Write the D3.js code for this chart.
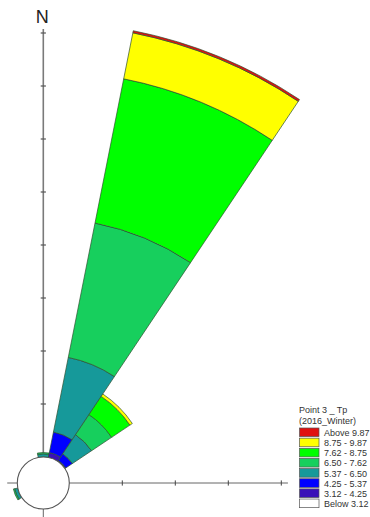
<!DOCTYPE html>
<html>
<head>
<meta charset="utf-8">
<script src="https://cdn.jsdelivr.net/npm/d3@7"></script>
<style>
  html, body { margin: 0; padding: 0; background: #fff; }
  svg { display: block; }
</style>
</head>
<body>
<div id="chart"></div>
<script>
// ---- data ----
const directions = ["N","NNE","NE","ENE","E","ESE","SE","SSE","S","SSW","SW","WSW","W","WNW","NW","NNW"];
const binLabels = ["Below 3.12","3.12 - 4.25","4.25 - 5.37","5.37 - 6.50","6.50 - 7.62","7.62 - 8.75","8.75 - 9.87","Above 9.87"];
const binColors = ["#ffffff","#3a10b8","#0000ff","#16999a","#17cf5d","#00ff00","#ffff00","#e01010"];
// frequency (%) per direction, for bins 3.12-4.25 ... Above 9.87 (the "Below" bin is the calm circle)
const freqN   = [0.00, 0.00, 0.12, 0.05, 0.00, 0.00, 0.00];
const freqNNE = [0.19, 0.79, 2.87, 5.17, 5.55, 1.77, 0.08];
const freqNE  = [0.04, 0.30, 0.87, 0.91, 0.83, 0.11, 0.00];
const freqWSW = [0.00, 0.00, 0.12, 0.05, 0.00, 0.00, 0.00];
const radialTicksN = [2, 4, 6, 8, 10, 12, 14, 16];
const radialTicksE = [2, 4, 6, 8];
const legendTitle = ["Point 3 _ Tp", "(2016_Winter)"];
const northLabel = "N";

// ---- layout ----
const W = 370, H = 517;
const cx = 43.3, cy = 483;
const R0 = 26;
const svg = d3.select("#chart").append("svg").attr("width", W).attr("height", H);

const r = d3.scaleLinear().domain([0, 1]).range([R0, R0 + 26.5]);
const angle = d3.scaleLinear().domain([0, directions.length]).range([0, 2 * Math.PI]);
const half = Math.PI / directions.length;

const g = svg.append("g").attr("transform", `translate(${cx},${cy})`);

// axes
const axisColor = "#666";
g.append("line").attr("x1", 0).attr("x2", 0).attr("y1", 0).attr("y2", -r(16.15))
  .attr("stroke", "#7a7a7a").attr("stroke-width", 1.6);
g.append("line").attr("x1", 0).attr("x2", 0).attr("y1", 0).attr("y2", r(0.55))
  .attr("stroke", axisColor).attr("stroke-width", 1);
g.append("line").attr("x1", 0).attr("x2", r(8.25)).attr("y1", 0).attr("y2", 0)
  .attr("stroke", axisColor).attr("stroke-width", 1);
g.append("line").attr("x1", 0).attr("x2", -r(0.38)).attr("y1", 0).attr("y2", 0)
  .attr("stroke", axisColor).attr("stroke-width", 1);

g.selectAll("line.tn").data(radialTicksN).join("line").attr("class", "tn")
  .attr("x1", -2.6).attr("x2", 2.6)
  .attr("y1", d => -r(d)).attr("y2", d => -r(d))
  .attr("stroke", "#555").attr("stroke-width", 1.2);
g.selectAll("line.te").data(radialTicksE).join("line").attr("class", "te")
  .attr("y1", -2.6).attr("y2", 2.6)
  .attr("x1", d => r(d)).attr("x2", d => r(d))
  .attr("stroke", "#444").attr("stroke-width", 1);

// wedges
const series = [
  { dir: "N", vals: freqN },
  { dir: "NNE", vals: freqNNE },
  { dir: "NE", vals: freqNE },
  { dir: "WSW", vals: freqWSW }
];
const arc = d3.arc();
const segs = [];
series.forEach(s => {
  const i = directions.indexOf(s.dir);
  let acc = 0;
  s.vals.forEach((v, k) => {
    if (v <= 0) return;
    segs.push({
      innerRadius: r(acc), outerRadius: r(acc + v),
      startAngle: angle(i) - half, endAngle: angle(i) + half,
      color: binColors[k + 1]
    });
    acc += v;
  });
});
g.selectAll("path.seg").data(segs).join("path").attr("class", "seg")
  .attr("d", d => arc(d))
  .attr("fill", d => d.color)
  .attr("stroke", "#2f5030").attr("stroke-width", 0.7).attr("stroke-linejoin", "round");

// calm circle
g.append("circle").attr("r", R0).attr("fill", "#fff").attr("stroke", "#555").attr("stroke-width", 1.1);

// north label
svg.append("text").attr("x", cx - 1).attr("y", 23).attr("text-anchor", "middle")
  .attr("font-family", "Liberation Sans, Arial, sans-serif").attr("font-size", 18)
  .attr("fill", "#222").text(northLabel);

// legend
const lg = svg.append("g").attr("transform", "translate(299,0)");
const legFont = "'Liberation Sans Narrow', 'Liberation Sans', Arial, sans-serif";
lg.selectAll("text.title").data(legendTitle).join("text").attr("class", "title")
  .attr("x", 0).attr("y", (d, i) => 413 + i * 10.5)
  .attr("font-family", legFont).attr("font-size", 9).attr("fill", "#333").text(d => d);
const legendOrder = binLabels.map((l, i) => ({ label: l, color: binColors[i] })).reverse();
const rows = lg.selectAll("g.row").data(legendOrder).join("g").attr("class", "row")
  .attr("transform", (d, i) => `translate(0,${428 + i * 10.15})`);
rows.append("rect").attr("x", 0.5).attr("y", 0).attr("width", 19.5).attr("height", 8.6)
  .attr("fill", d => d.color).attr("stroke", "#555").attr("stroke-width", 0.7);
rows.append("text").attr("x", 25).attr("y", 8)
  .attr("font-family", legFont).attr("font-size", 9).attr("fill", "#333").text(d => d.label);
</script>
</body>
</html>
